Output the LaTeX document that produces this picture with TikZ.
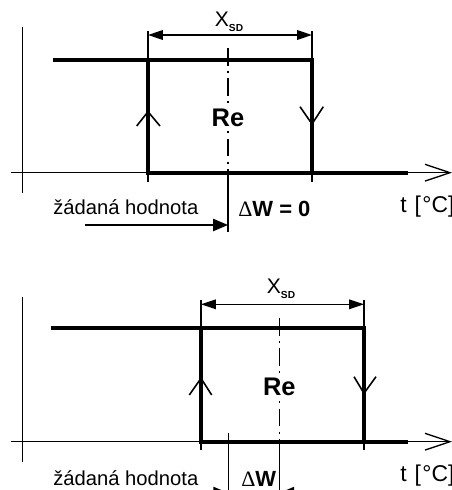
\documentclass[tikz,border=0pt]{standalone}
\usepackage{fontspec}
\setmainfont{Liberation Sans}
\newfontfamily\grk{Liberation Serif}
\usetikzlibrary{arrows.meta}
\newcommand{\xsdlabel}{X\raisebox{-0.5ex}{\fontsize{5.8}{6}\selectfont\bfseries SD}}
\begin{document}
\begin{tikzpicture}[x=0.02cm,y=-0.02cm,
  axisline/.style={line width=0.75pt},
  heavy/.style={line width=2.3pt,line join=miter},
  chev/.style={line width=0.9pt},
  dimline/.style={line width=0.75pt,{Triangle[length=8.5pt,width=5.5pt]}-{Triangle[length=8.5pt,width=5.5pt]}},
  ptr/.style={line width=0.75pt,-{Triangle[length=8.5pt,width=7pt]}},
  dashdot/.style={line width=0.75pt,dash pattern=on 10pt off 3pt on 1.2pt off 3pt},
  lbl/.style={font=\fontsize{11.5}{13}\selectfont, inner sep=0pt},
  xlbl/.style={font=\fontsize{12}{14}\selectfont, inner sep=0pt},
  unitlbl/.style={font=\fontsize{13}{15}\selectfont, inner sep=0pt},
  boldlbl/.style={font=\fontsize{12.5}{14}\selectfont\bfseries, inner sep=0pt},
  relbl/.style={font=\fontsize{14.5}{16}\selectfont\bfseries, inner sep=1pt, fill=white}]
\useasboundingbox (0,0) rectangle (452,490);
\clip (0,0) rectangle (452,490);

% ================= TOP DIAGRAM =================
\coordinate (A1t) at (22.7,27);   \coordinate (A1b) at (22.7,193);
\coordinate (H1l) at (11,172.7);  \coordinate (H1r) at (450,172.7);
\coordinate (L1t) at (148,31);    \coordinate (L1b) at (148,182);
\coordinate (R1t) at (312,31);    \coordinate (R1b) at (312,182);
\coordinate (D1l) at (148,35);    \coordinate (D1r) at (312,35);
\coordinate (C1t) at (228,48);    \coordinate (C1m) at (228,172.7); \coordinate (C1b) at (228,232);
\coordinate (P1s) at (85,225);

\draw[axisline] (A1t) -- (A1b);
\draw[axisline] (H1l) -- (H1r);
\draw[axisline] (425,164.3) -- (H1r) -- (425,181.1);
\draw[axisline] (L1t) -- (L1b);
\draw[axisline] (R1t) -- (R1b);
\draw[heavy] (53,60) -- (312,60) -- (312,172.7);
\draw[heavy] (148,60) -- (148,172.7) -- (408,172.7);
\draw[dimline] (D1l) -- (D1r);
\draw[dashdot] (C1t) -- (C1m);
\draw[axisline] (C1m) -- (C1b);
\draw[chev] (136.7,126) -- (148,111.7) -- (160,126);
\draw[chev] (300,106.7) -- (312,124) -- (323.3,106.7);
\draw[ptr] (P1s) -- (C1b |- P1s);

\node[xlbl] (xsd1) at (229,22) {\xsdlabel};
\node[relbl] (re1) at (228,118) {Re};
\node[lbl,anchor=base west] (zh1) at (53,214) {žádaná hodnota};
\node[boldlbl,anchor=base west] (dw1) at (238,216) {{\grk\mdseries Δ}W = 0};
\node[unitlbl,anchor=base west] (t1) at (400,212) {t\hspace{0.35em}[\kern0.8pt°C]};

% ================= BOTTOM DIAGRAM =================
\coordinate (A2t) at (22.7,296.7); \coordinate (A2b) at (22.7,461.7);
\coordinate (H2l) at (11,441.7);   \coordinate (H2r) at (450,441.7);
\coordinate (L2t) at (201,300);    \coordinate (L2b) at (201,450);
\coordinate (R2t) at (364,300);    \coordinate (R2b) at (364,450);
\coordinate (D2l) at (201,304.3);  \coordinate (D2r) at (364,304.3);
\coordinate (C2t) at (279.3,318);  \coordinate (C2m) at (279.3,441.7); \coordinate (C2b) at (279.3,495);
\coordinate (W2t) at (228.3,433);  \coordinate (W2b) at (228.3,495);
\coordinate (Q2l) at (198,493);    \coordinate (Q2r) at (310,493);

\draw[axisline] (A2t) -- (A2b);
\draw[axisline] (H2l) -- (H2r);
\draw[axisline] (425,433.3) -- (H2r) -- (425,450.1);
\draw[axisline] (L2t) -- (L2b);
\draw[axisline] (R2t) -- (R2b);
\draw[heavy] (50.7,328.3) -- (364,328.3) -- (364,441.7);
\draw[heavy] (201,328.3) -- (201,441.7) -- (408,441.7);
\draw[dimline] (D2l) -- (D2r);
\draw[dashdot] (C2t) -- (C2m);
\draw[axisline] (C2m) -- (C2b);
\draw[axisline] (W2t) -- (W2b);
\draw[chev] (189.3,395) -- (201,378.3) -- (211.7,395);
\draw[chev] (354,376.7) -- (364,393.3) -- (376,376.7);
\draw[ptr] (Q2l) -- (W2b |- Q2l);
\draw[ptr] (Q2r) -- (C2b |- Q2r);

\node[xlbl] (xsd2) at (281,289) {\xsdlabel};
\node[relbl] (re2) at (279.3,387) {Re};
\node[lbl,anchor=base west] (zh2) at (53,485) {žádaná hodnota};
\node[boldlbl,anchor=base west] (dw2) at (241,486) {{\grk\mdseries Δ}W};
\node[unitlbl,anchor=base west] (t2) at (400,481) {t\hspace{0.35em}[\kern0.8pt°C]};
\end{tikzpicture}
\end{document}
